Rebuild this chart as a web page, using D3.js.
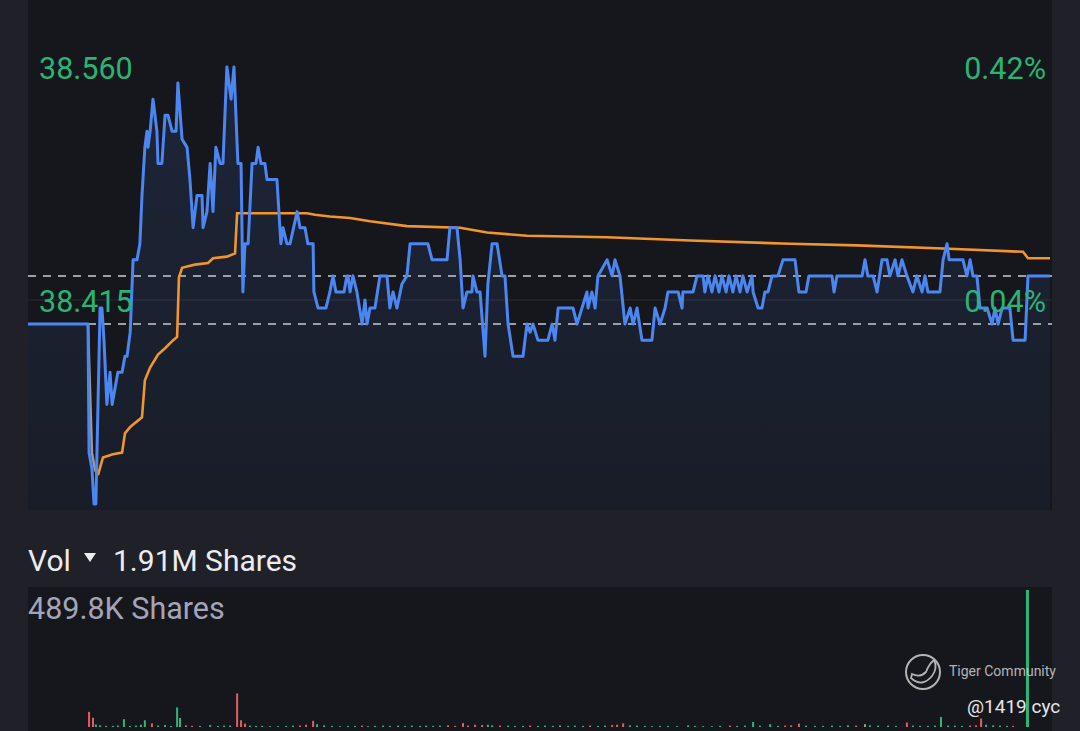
<!DOCTYPE html>
<html>
<head>
<meta charset="utf-8">
<script src="https://cdn.jsdelivr.net/npm/d3@7"></script>
<style>
  html, body { margin: 0; padding: 0; background: #202128; }
  svg { display: block; font-family: Roboto, "Noto Sans", sans-serif; }
</style>
</head>
<body>
<svg id="chart" width="1080" height="731"></svg>
<script>
// intraday price, [minutes from open, price]
var lastPrice = [
	[0, 38.40], [22.9, 38.40], [23.3, 38.32], [24.4, 38.31], [25.2, 38.288], [25.9, 38.288],
	[27.5, 38.41], [28.2, 38.41], [29.0, 38.39], [30.1, 38.35], [31.3, 38.37], [32.1, 38.35],
	[33.2, 38.36], [34.3, 38.37], [35.9, 38.37], [37.0, 38.38], [37.8, 38.38], [39.0, 38.395],
	[40.1, 38.44], [41.6, 38.44], [42.7, 38.45], [43.5, 38.48], [44.6, 38.51], [45.4, 38.52],
	[45.8, 38.51], [46.6, 38.52], [47.7, 38.54], [49.2, 38.52], [49.6, 38.50], [51.1, 38.50],
	[52.3, 38.53], [53.4, 38.53], [55.0, 38.52], [56.5, 38.52], [57.2, 38.55], [58.8, 38.515],
	[60.7, 38.51], [61.8, 38.49], [63.0, 38.46], [64.5, 38.48], [66.4, 38.48], [66.8, 38.46],
	[68.3, 38.47], [69.5, 38.50], [70.6, 38.47], [71.7, 38.51], [73.3, 38.50], [74.4, 38.50],
	[75.9, 38.56], [77.5, 38.54], [78.6, 38.56], [80.1, 38.50], [81.3, 38.50], [82.0, 38.42],
	[82.8, 38.45], [84.0, 38.45], [85.5, 38.50], [87.0, 38.50], [87.8, 38.51], [88.9, 38.50],
	[90.4, 38.50], [91.2, 38.49], [95.0, 38.49], [96.5, 38.45], [97.3, 38.46], [98.8, 38.45],
	[100.0, 38.45], [102.7, 38.47], [103.8, 38.46], [105.7, 38.46], [106.8, 38.45], [108.8, 38.45],
	[109.1, 38.42], [110.7, 38.41], [113.7, 38.41], [115.2, 38.42], [116.4, 38.43], [117.5, 38.42],
	[120.6, 38.42], [121.7, 38.43], [122.1, 38.43], [122.9, 38.42], [124.0, 38.43], [125.5, 38.42],
	[127.5, 38.40], [128.6, 38.415], [129.4, 38.40], [130.5, 38.41], [132.4, 38.41], [134.3, 38.43],
	[137.0, 38.43], [138.1, 38.41], [139.3, 38.42], [140.8, 38.41], [142.7, 38.425], [144.6, 38.43],
	[145.8, 38.45], [152.6, 38.45], [154.2, 38.44], [159.9, 38.44], [161.0, 38.46], [163.7, 38.46],
	[164.9, 38.44], [166.0, 38.41], [167.5, 38.42], [169.4, 38.42], [169.8, 38.43], [171.3, 38.42],
	[172.5, 38.42], [174.4, 38.38], [175.5, 38.425], [177.1, 38.45], [179.0, 38.45], [180.9, 38.43],
	[182.0, 38.43], [183.2, 38.40], [185.1, 38.38], [188.9, 38.38], [190.4, 38.40], [191.6, 38.395],
	[192.7, 38.40], [194.6, 38.39], [198.4, 38.39], [200.0, 38.40], [201.1, 38.39], [202.3, 38.41],
	[208.0, 38.41], [209.5, 38.40], [211.4, 38.41], [213.3, 38.42], [213.7, 38.41], [215.2, 38.42],
	[216.4, 38.41], [217.5, 38.43], [221.0, 38.44], [222.9, 38.43], [224.0, 38.44], [225.9, 38.43],
	[227.8, 38.40], [229.8, 38.41], [230.9, 38.40], [232.4, 38.41], [234.3, 38.39], [238.1, 38.39],
	[239.3, 38.41], [241.2, 38.40], [243.1, 38.41], [244.2, 38.42], [248.1, 38.42], [249.6, 38.41],
	[249.9, 38.42], [253.8, 38.42], [255.3, 38.43], [257.6, 38.43], [258.3, 38.42], [259.5, 38.43],
	[261.0, 38.42], [262.2, 38.43], [263.7, 38.42], [264.8, 38.43], [266.4, 38.42], [267.5, 38.43],
	[269.0, 38.42], [270.2, 38.43], [271.7, 38.42], [272.8, 38.43], [274.4, 38.42], [276.3, 38.43],
	[276.7, 38.42], [278.6, 38.41], [280.1, 38.41], [281.2, 38.42], [282.4, 38.42], [283.9, 38.43],
	[286.2, 38.43], [288.1, 38.44], [292.7, 38.44], [294.2, 38.42], [296.9, 38.42], [298.0, 38.43],
	[306.8, 38.43], [307.6, 38.42], [308.7, 38.43], [318.3, 38.43], [319.4, 38.44], [320.5, 38.43],
	[322.5, 38.43], [324.0, 38.42], [325.9, 38.44], [327.8, 38.44], [328.9, 38.43], [330.9, 38.44],
	[332.0, 38.43], [333.5, 38.44], [335.4, 38.43], [337.7, 38.42], [339.2, 38.43], [341.2, 38.42],
	[342.3, 38.43], [343.4, 38.42], [348.0, 38.42], [349.2, 38.44], [350.7, 38.45], [351.5, 38.44],
	[356.8, 38.44], [358.3, 38.43], [359.5, 38.44], [360.6, 38.43], [362.1, 38.43], [363.3, 38.41],
	[366.0, 38.41], [367.9, 38.40], [369.0, 38.41], [370.2, 38.40], [371.7, 38.41], [374.7, 38.41],
	[375.9, 38.39], [380.5, 38.39], [381.6, 38.43], [390, 38.43]
];

// average price line (first bit is drawn grey)
var avgLeadIn = [[22.9, 38.40], [24.4, 38.32], [25.6, 38.309], [26.7, 38.306]];
var avgPrice = [
	[26.7, 38.306], [28.6, 38.317], [32.4, 38.319], [35.9, 38.320], [37.0, 38.332], [39.0, 38.336],
	[43.5, 38.342], [44.6, 38.365], [46.6, 38.373], [49.6, 38.381], [52.3, 38.385], [55.4, 38.390],
	[56.9, 38.392], [57.6, 38.429], [58.8, 38.435], [61.1, 38.436], [63.7, 38.437], [68.7, 38.438],
	[70.6, 38.441], [75.9, 38.442], [79.0, 38.444], [79.8, 38.469], [80.9, 38.469], [106.5, 38.469],
	[109.5, 38.468], [115.2, 38.467], [122.9, 38.466], [130.5, 38.464], [144.6, 38.461], [164.9, 38.460],
	[175.2, 38.457], [190.4, 38.455], [221.0, 38.454], [252.6, 38.452], [290.8, 38.450], [316.4, 38.449],
	[349.2, 38.447], [379.7, 38.445], [381.6, 38.441], [390, 38.441]
];

// volume bars, thousands of shares; u = up, d = down, n = unchanged
var volTimes = [23.3, 24.8, 25.9, 27.5, 29.8, 32.4, 34.3, 36.6, 38.9, 41.2, 43.1, 44.6, 47.3, 49.6, 52.3,
	54.6, 56.9, 58.0, 60.3, 62.6, 65.6, 69.5, 72.5, 74.8, 77.1, 79.8, 81.3, 82.8, 84.7, 87.0, 89.3, 92.3,
	95.4, 98.5, 101.1, 103.8, 106.1, 108.8, 110.3, 113.0, 116.0, 119.1, 122.1, 124.8, 127.5, 129.7, 132.4,
	135.5, 138.1, 141.2, 143.9, 146.5, 149.6, 151.9, 154.6, 157.2, 160.3, 163.0, 166.0, 167.9, 170.6, 173.3,
	175.5, 177.1, 180.1, 183.2, 185.8, 188.9, 191.6, 194.6, 197.3, 200.3, 203.0, 206.1, 208.7, 211.8, 214.5,
	217.5, 220.2, 222.9, 224.8, 227.1, 229.7, 232.4, 235.4, 238.1, 241.2, 244.2, 247.7, 251.9, 254.5, 257.6,
	261.0, 264.1, 267.9, 270.6, 273.6, 276.7, 279.3, 283.2, 286.2, 288.9, 291.2, 294.2, 296.9, 300.3, 303.4,
	306.8, 309.9, 312.9, 316.0, 319.4, 321.3, 324.4, 328.2, 331.2, 335.4, 337.7, 340.4, 343.4, 346.1, 348.4,
	351.1, 353.7, 356.4, 359.5, 361.8, 363.7, 365.6, 368.3, 370.9, 373.6, 375.9, 381.2];
var volValues = [54, 33, 9, 6, 4, 4, 5, 28, 4, 5, 8, 24, 13, 5, 7,
	4, 70, 32, 6, 4, 4, 7, 4, 5, 5, 120, 24, 12, 5, 4, 4, 3,
	3, 4, 5, 5, 8, 22, 10, 6, 4, 3, 4, 4, 5, 3, 4,
	5, 4, 5, 4, 5, 4, 5, 4, 5, 6, 4, 14, 5, 8, 7,
	8, 6, 5, 5, 4, 4, 5, 4, 5, 4, 5, 4, 5, 4, 5,
	4, 5, 7, 8, 13, 6, 5, 4, 3, 4, 4, 3, 6, 4, 3,
	3, 4, 5, 4, 5, 18, 5, 10, 4, 5, 6, 12, 5, 4, 4,
	5, 4, 6, 5, 10, 6, 5, 5, 4, 16, 5, 4, 4, 5, 36,
	5, 5, 4, 5, 6, 30, 8, 6, 5, 4, 4, 489.8];
var volDirs = ["d", "d", "u", "u", "u", "u", "u", "u", "u", "u", "u", "u", "d", "u", "u",
	"u", "u", "u", "d", "d", "u", "u", "u", "u", "u", "d", "d", "d", "u", "u", "u", "u",
	"u", "u", "u", "d", "d", "d", "u", "u", "u", "u", "u", "u", "d", "u", "u",
	"u", "u", "u", "u", "u", "u", "u", "u", "u", "d", "d", "d", "d", "d", "d",
	"u", "u", "d", "u", "u", "u", "d", "u", "u", "u", "n", "u", "u", "u", "d",
	"u", "u", "d", "d", "d", "u", "u", "u", "u", "u", "u", "u", "u", "u", "u",
	"u", "u", "d", "u", "u", "u", "u", "u", "u", "d", "d", "d", "u", "u", "u",
	"u", "u", "u", "d", "n", "u", "u", "u", "u", "d", "u", "u", "u", "u", "u",
	"u", "u", "u", "d", "d", "d", "u", "u", "u", "u", "d", "u"];

// axis labels
var priceTicks = [38.56, 38.415],
	priceTickLabels = ["38.560", "38.415"],
	pctTickLabels = ["0.42%", "0.04%"];
var prevClose = 38.40,
	lastClose = 38.43;
var volTotalLabel = "1.91M Shares",
	volMax = 489.8,
	volMaxLabel = "489.8K Shares";

// colours
var upColor = "#2db57a",
	downColor = "#e05f5f",
	flatColor = "#a59d86",
	lineColor = "#4c86f0",
	avgColor = "#f0962c";

var svg = d3.select("#chart");

// backgrounds
svg.append("rect").attr("width", 1080).attr("height", 731).attr("fill", "#202128");
svg.append("rect").attr("x", 28).attr("y", 0).attr("width", 1024).attr("height", 510).attr("fill", "#16171d");
svg.append("rect").attr("x", 28).attr("y", 587).attr("width", 1024).attr("height", 144).attr("fill", "#16171d");

var x = d3.scaleLinear().domain([0, 390]).range([28, 1050]),
	y = d3.scaleLinear().domain([38.2843, 38.6017]).range([510, 0]),
	yVol = d3.scaleLinear().domain([0, volMax]).range([727, 590]);

var defs = svg.append("defs");
var grad = defs.append("linearGradient").attr("id", "areaFill")
	.attr("x1", 0).attr("y1", 0).attr("x2", 0).attr("y2", 1);
grad.append("stop").attr("offset", "0%").attr("stop-color", lineColor).attr("stop-opacity", 0.13);
grad.append("stop").attr("offset", "100%").attr("stop-color", lineColor).attr("stop-opacity", 0.05);

// faint mid line
svg.append("line")
	.attr("x1", 28).attr("x2", 1052)
	.attr("y1", y(priceTicks[1])).attr("y2", y(priceTicks[1]))
	.attr("stroke", "#2b2d37").attr("stroke-width", 1);

var area = d3.area()
	.x(function(d) { return x(d[0]); })
	.y0(510)
	.y1(function(d) { return y(d[1]); });
svg.append("path").datum(lastPrice).attr("d", area).attr("fill", "url(#areaFill)");

// prev close + last price dashes
svg.selectAll("line.ref")
	.data([lastClose, prevClose])
	.enter().append("line")
	.attr("class", "ref")
	.attr("x1", 28).attr("x2", 1052)
	.attr("y1", function(d) { return y(d); })
	.attr("y2", function(d) { return y(d); })
	.attr("stroke", "#9c9eaa")
	.attr("stroke-width", 2)
	.attr("stroke-dasharray", "8,7");

var line = d3.line()
	.x(function(d) { return x(d[0]); })
	.y(function(d) { return y(d[1]); });

svg.append("path").datum(avgLeadIn).attr("d", line)
	.attr("fill", "none").attr("stroke", "#9a9aa6").attr("stroke-width", 2.5);
svg.append("path").datum(avgPrice).attr("d", line)
	.attr("fill", "none").attr("stroke", avgColor).attr("stroke-width", 2.6);
svg.append("path").datum(lastPrice).attr("d", line)
	.attr("fill", "none").attr("stroke", lineColor).attr("stroke-width", 3)
	.attr("stroke-linejoin", "round");

// price labels
svg.selectAll("text.ptick")
	.data(priceTicks)
	.enter().append("text")
	.attr("class", "ptick")
	.attr("x", 39)
	.attr("y", function(d) { return y(d) + 12; })
	.attr("font-size", 30.5)
	.attr("fill", "#2bb373")
	.text(function(d, i) { return priceTickLabels[i]; });

svg.selectAll("text.pct")
	.data(priceTicks)
	.enter().append("text")
	.attr("class", "pct")
	.attr("x", 1046)
	.attr("y", function(d) { return y(d) + 12; })
	.attr("text-anchor", "end")
	.attr("font-size", 30.5)
	.attr("fill", "#2bb373")
	.text(function(d, i) { return pctTickLabels[i]; });

// volume header
svg.append("text").attr("x", 28).attr("y", 571).attr("font-size", 30).attr("fill", "#ececef").text("Vol");
svg.append("path").attr("d", "M84,553 L96,553 L90,562 Z").attr("fill", "#ececef");
svg.append("text").attr("x", 113).attr("y", 571).attr("font-size", 30).attr("fill", "#ececef").text(volTotalLabel);
svg.append("text").attr("x", 28).attr("y", 619).attr("font-size", 30.5).attr("fill", "#a2a5b7").text(volMaxLabel);

// volume bars
var volData = volTimes.map(function(t, i) {
	return { t: t, v: volValues[i], dir: volDirs[i] };
});
svg.selectAll("rect.vol")
	.data(volData)
	.enter().append("rect")
	.attr("class", "vol")
	.attr("x", function(d) { return x(d.t) - 1; })
	.attr("width", function(d) { return d.v == volMax ? 3 : 2; })
	.attr("y", function(d) { return yVol(d.v); })
	.attr("height", function(d) { return 727 - yVol(d.v); })
	.attr("fill", function(d) {
		return d.dir == "u" ? upColor : (d.dir == "d" ? downColor : flatColor);
	});

// watermark
var wm = svg.append("g").attr("opacity", 0.85);
wm.append("circle").attr("cx", 923).attr("cy", 672).attr("r", 17)
	.attr("fill", "none").attr("stroke", "#d0d0d0").attr("stroke-width", 2);
wm.append("path")
	.attr("d", "M911,678 Q922,688 932,676 Q938,668 934,660 Q929,664 926,672 Q920,678 912,674 Z")
	.attr("fill", "none").attr("stroke", "#d0d0d0").attr("stroke-width", 1.8);
wm.append("text").attr("x", 949).attr("y", 676).attr("font-size", 14).attr("fill", "#cfcfcf").text("Tiger Community");
svg.append("text").attr("x", 967).attr("y", 713).attr("font-size", 19).attr("fill", "#e6e6e6").text("@1419 cyc");
</script>
</body>
</html>
